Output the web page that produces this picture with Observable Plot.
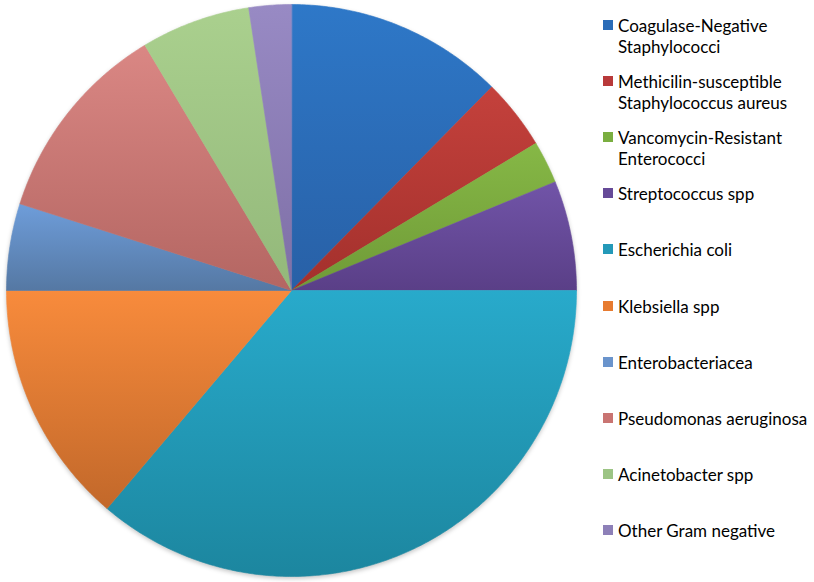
<!DOCTYPE html>
<html><head><meta charset="utf-8">
<script src="https://cdn.jsdelivr.net/npm/d3@7"></script>
<script src="https://cdn.jsdelivr.net/npm/@observablehq/plot@0.6"></script>
<style>
body{margin:0;background:#fff;font-family:Lato,"Open Sans",sans-serif}
#wrap{position:relative;width:814px;height:582px;overflow:hidden}
#chart{position:absolute;left:0;top:0}
.item{position:absolute;left:603px;font-size:17px;color:#000;line-height:21px;white-space:nowrap}
.sw{position:absolute;left:0;top:5px;width:10px;height:10px}
.lab{margin-left:15px}
</style></head><body><div id="wrap"><div id="chart"></div><div id="legend"></div></div>
<script>
const categories = ["Coagulase-Negative Staphylococci","Methicilin-susceptible Staphylococcus aureus","Vancomycin-Resistant Enterococci","Streptococcus spp","Escherichia coli","Klebsiella spp","Enterobacteriacea","Pseudomonas aeruginosa","Acinetobacter spp","Other Gram negative"];
const values = [12.4, 4.0, 2.4, 6.2, 36.2, 13.8, 4.9, 11.5, 6.2, 2.4];
const legendLabels = [["Coagulase-Negative","Staphylococci"],["Methicilin-susceptible","Staphylococcus aureus"],["Vancomycin-Resistant","Enterococci"],["Streptococcus spp"],["Escherichia coli"],["Klebsiella spp"],["Enterobacteriacea"],["Pseudomonas aeruginosa"],["Acinetobacter spp"],["Other Gram negative"]];
const topColors = ["#2E78C8","#C4413C","#86B846","#7154A8","#28AACB","#F88B3C","#6E9DDA","#DA8784","#AAD08E","#988AC4"];
const bottomColors = ["#2860A6","#A3302C","#6F9A37","#5A3F87","#1C869F","#C2682A","#5578A3","#B46662","#93B87A","#7E6FA6"];
const swatchColors = ["#2A6CB8","#B8393A","#7AAE40","#664A98","#2499B8","#E77B30","#6A94CC","#C97472","#9CC484","#8D80B8"];

const arcs = d3.pie().sort(null).value(d => d)(values);
const pts = [];
arcs.forEach((p, i) => {
  const name = categories[i];
  pts.push({name, x: 0, y: 0});
  const n = Math.max(2, Math.ceil((p.endAngle - p.startAngle) / (Math.PI / 360)));
  for (let k = 0; k <= n; k++) {
    const a = p.startAngle + (p.endAngle - p.startAngle) * k / n;
    pts.push({name, x: Math.sin(a), y: Math.cos(a)});
  }
});

const chart = Plot.plot({
  width: 582, height: 582,
  marginLeft: 6, marginRight: 6, marginTop: 4, marginBottom: 6,
  x: {domain: [-1, 1], axis: null},
  y: {domain: [-1, 1], axis: null},
  color: {domain: categories, range: categories.map((_, i) => `url(#g${i})`)},
  marks: [
    Plot.line(pts, {x: "x", y: "y", z: "name", fill: "name", stroke: "name", strokeWidth: 0.6, curve: "linear-closed"})
  ]
});
const svg = d3.select(chart);
const defs = svg.insert("defs", ":first-child");
categories.forEach((c, i) => {
  const g = defs.append("linearGradient").attr("id", "g" + i).attr("x1", 0).attr("y1", 0).attr("x2", 0).attr("y2", 1);
  g.append("stop").attr("offset", 0).attr("stop-color", topColors[i]);
  g.append("stop").attr("offset", 1).attr("stop-color", bottomColors[i]);
});
svg.selectAll("g[aria-label='line']").style("filter", "drop-shadow(0px 2px 2px rgba(0,0,0,0.22))");
document.getElementById("chart").appendChild(chart);

const legend = d3.select("#legend");
legendLabels.forEach((lines, i) => {
  const item = legend.append("div").attr("class", "item").style("top", (25 + i * 56.2 - 10.5) + "px");
  item.append("div").attr("class", "sw").style("background", swatchColors[i]);
  item.append("div").attr("class", "lab").html(lines.join("<br>"));
});
</script>
</body></html>
